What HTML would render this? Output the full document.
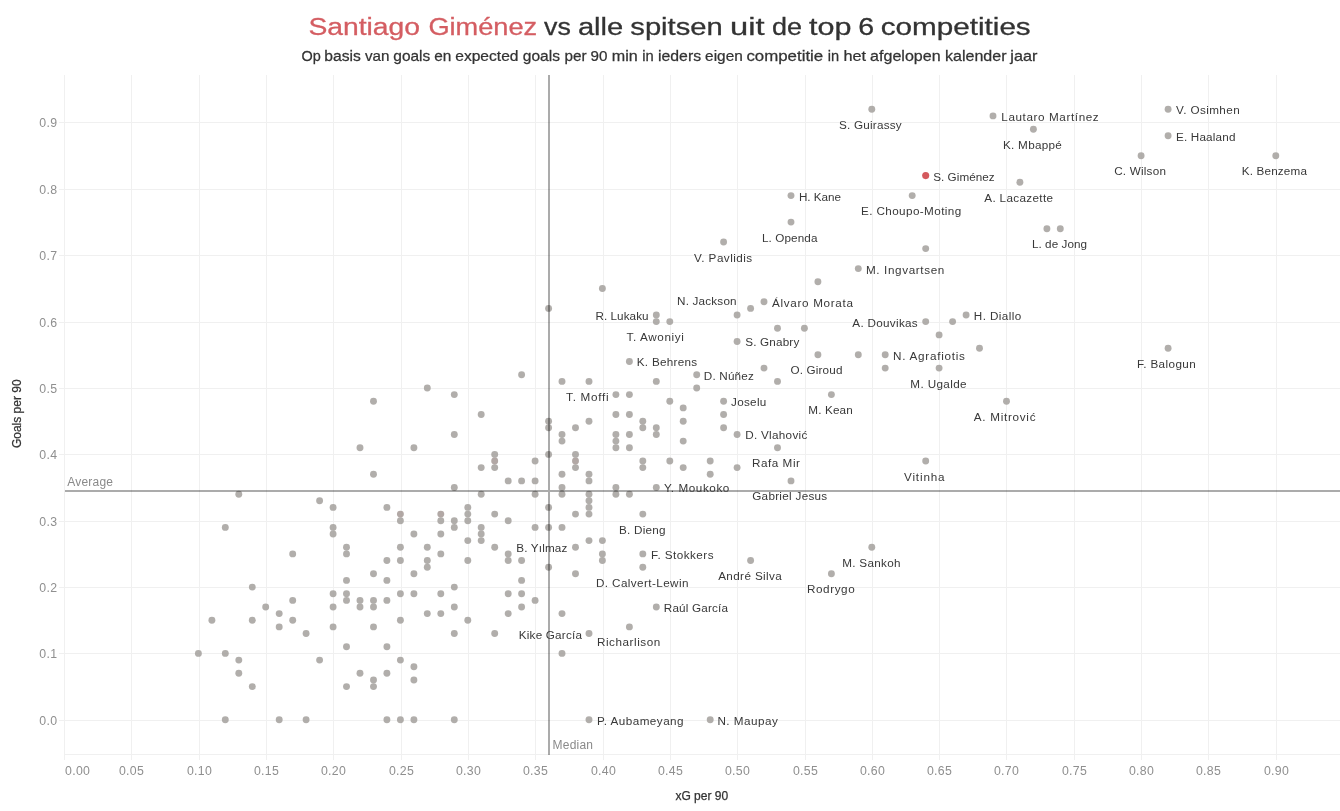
<!DOCTYPE html>
<html><head><meta charset="utf-8"><title>Santiago Giménez vs alle spitsen</title>
<style>html,body{margin:0;padding:0;background:#fff}body{width:1340px;height:811px;overflow:hidden}svg{display:block}text{font-family:"Liberation Sans",sans-serif}.lb{font-size:11.7px;fill:#383838}.ax{font-size:12.3px;fill:#8f8f8f;letter-spacing:0.3px}.rf{font-size:12px;fill:#8a8a8a;letter-spacing:0.2px}.at{font-size:12px;fill:#333;stroke:#333;stroke-width:0.25px}</style></head><body>
<svg width="1340" height="811" viewBox="0 0 1340 811">
<rect width="1340" height="811" fill="#fff"/>
<g transform="translate(308.4 34.5) scale(1.160 1)"><text x="0" y="0" font-size="24.4px" fill="#d45d62" stroke="#d45d62" stroke-width="0.3">Santiago </text></g>
<g transform="translate(428.4 34.5) scale(1.115 1)"><text x="0" y="0" font-size="24.4px" fill="#d45d62" stroke="#d45d62" stroke-width="0.3">Giménez </text></g>
<g transform="translate(544.0 34.5) scale(1.098 1)"><text x="0" y="0" font-size="24.4px" fill="#333" stroke="#333" stroke-width="0.3">vs </text></g>
<g transform="translate(577.9 34.5) scale(1.195 1)"><text x="0" y="0" font-size="24.4px" fill="#333" stroke="#333" stroke-width="0.3">alle </text></g>
<g transform="translate(630.3 34.5) scale(1.196 1)"><text x="0" y="0" font-size="24.4px" fill="#333" stroke="#333" stroke-width="0.3">spitsen </text></g>
<g transform="translate(730.0 34.5) scale(1.342 1)"><text x="0" y="0" font-size="24.4px" fill="#333" stroke="#333" stroke-width="0.3">uit </text></g>
<g transform="translate(772.1 34.5) scale(1.105 1)"><text x="0" y="0" font-size="24.4px" fill="#333" stroke="#333" stroke-width="0.3">de </text></g>
<g transform="translate(809.1 34.5) scale(1.250 1)"><text x="0" y="0" font-size="24.4px" fill="#333" stroke="#333" stroke-width="0.3">top </text></g>
<g transform="translate(858.3 34.5) scale(1.171 1)"><text x="0" y="0" font-size="24.4px" fill="#333" stroke="#333" stroke-width="0.3">6 </text></g>
<g transform="translate(880.8 34.5) scale(1.215 1)"><text x="0" y="0" font-size="24.4px" fill="#333" stroke="#333" stroke-width="0.3">competities </text></g>
<g transform="translate(301.5 61.1) scale(0.991 1)"><text x="0" y="0" font-size="14.6px" fill="#333" stroke="#333" stroke-width="0.25">Op </text></g>
<g transform="translate(324.3 61.1) scale(1.074 1)"><text x="0" y="0" font-size="14.6px" fill="#333" stroke="#333" stroke-width="0.25">basis </text></g>
<g transform="translate(364.9 61.1) scale(1.041 1)"><text x="0" y="0" font-size="14.6px" fill="#333" stroke="#333" stroke-width="0.25">van </text></g>
<g transform="translate(393.3 61.1) scale(1.060 1)"><text x="0" y="0" font-size="14.6px" fill="#333" stroke="#333" stroke-width="0.25">goals </text></g>
<g transform="translate(434.3 61.1) scale(1.054 1)"><text x="0" y="0" font-size="14.6px" fill="#333" stroke="#333" stroke-width="0.25">en </text></g>
<g transform="translate(455.2 61.1) scale(1.069 1)"><text x="0" y="0" font-size="14.6px" fill="#333" stroke="#333" stroke-width="0.25">expected </text></g>
<g transform="translate(522.8 61.1) scale(1.066 1)"><text x="0" y="0" font-size="14.6px" fill="#333" stroke="#333" stroke-width="0.25">goals </text></g>
<g transform="translate(564.4 61.1) scale(1.048 1)"><text x="0" y="0" font-size="14.6px" fill="#333" stroke="#333" stroke-width="0.25">per </text></g>
<g transform="translate(590.5 61.1) scale(1.041 1)"><text x="0" y="0" font-size="14.6px" fill="#333" stroke="#333" stroke-width="0.25">90 </text></g>
<g transform="translate(611.7 61.1) scale(1.105 1)"><text x="0" y="0" font-size="14.6px" fill="#333" stroke="#333" stroke-width="0.25">min </text></g>
<g transform="translate(642.2 61.1) scale(1.012 1)"><text x="0" y="0" font-size="14.6px" fill="#333" stroke="#333" stroke-width="0.25">in </text></g>
<g transform="translate(658.0 61.1) scale(1.084 1)"><text x="0" y="0" font-size="14.6px" fill="#333" stroke="#333" stroke-width="0.25">ieders </text></g>
<g transform="translate(705.1 61.1) scale(1.055 1)"><text x="0" y="0" font-size="14.6px" fill="#333" stroke="#333" stroke-width="0.25">eigen </text></g>
<g transform="translate(746.4 61.1) scale(1.155 1)"><text x="0" y="0" font-size="14.6px" fill="#333" stroke="#333" stroke-width="0.25">competitie </text></g>
<g transform="translate(827.7 61.1) scale(1.004 1)"><text x="0" y="0" font-size="14.6px" fill="#333" stroke="#333" stroke-width="0.25">in </text></g>
<g transform="translate(843.4 61.1) scale(1.118 1)"><text x="0" y="0" font-size="14.6px" fill="#333" stroke="#333" stroke-width="0.25">het </text></g>
<g transform="translate(870.1 61.1) scale(1.101 1)"><text x="0" y="0" font-size="14.6px" fill="#333" stroke="#333" stroke-width="0.25">afgelopen </text></g>
<g transform="translate(945.0 61.1) scale(1.099 1)"><text x="0" y="0" font-size="14.6px" fill="#333" stroke="#333" stroke-width="0.25">kalender </text></g>
<g transform="translate(1010.3 61.1) scale(1.109 1)"><text x="0" y="0" font-size="14.6px" fill="#333" stroke="#333" stroke-width="0.25">jaar </text></g>
<path d="M64.5 75V759.5M131.5 75V759.5M199.5 75V759.5M266.5 75V759.5M333.5 75V759.5M401.5 75V759.5M468.5 75V759.5M535.5 75V759.5M603.5 75V759.5M670.5 75V759.5M737.5 75V759.5M805.5 75V759.5M872.5 75V759.5M939.5 75V759.5M1006.5 75V759.5M1074.5 75V759.5M1141.5 75V759.5M1208.5 75V759.5M1276.5 75V759.5M59.2 720.5H1340M59.2 653.5H1340M59.2 587.5H1340M59.2 521.5H1340M59.2 454.5H1340M59.2 388.5H1340M59.2 322.5H1340M59.2 255.5H1340M59.2 189.5H1340M59.2 122.5H1340M64.5 754.5H1340" stroke="#f0f0f0" stroke-width="1" fill="none" shape-rendering="crispEdges"/>
<text class="ax" x="65.1" y="775.2">0.00</text>
<text class="ax" x="131.5" y="775.2" text-anchor="middle">0.05</text>
<text class="ax" x="199.5" y="775.2" text-anchor="middle">0.10</text>
<text class="ax" x="266.5" y="775.2" text-anchor="middle">0.15</text>
<text class="ax" x="333.5" y="775.2" text-anchor="middle">0.20</text>
<text class="ax" x="401.5" y="775.2" text-anchor="middle">0.25</text>
<text class="ax" x="468.5" y="775.2" text-anchor="middle">0.30</text>
<text class="ax" x="535.5" y="775.2" text-anchor="middle">0.35</text>
<text class="ax" x="603.5" y="775.2" text-anchor="middle">0.40</text>
<text class="ax" x="670.5" y="775.2" text-anchor="middle">0.45</text>
<text class="ax" x="737.5" y="775.2" text-anchor="middle">0.50</text>
<text class="ax" x="805.5" y="775.2" text-anchor="middle">0.55</text>
<text class="ax" x="872.5" y="775.2" text-anchor="middle">0.60</text>
<text class="ax" x="939.5" y="775.2" text-anchor="middle">0.65</text>
<text class="ax" x="1006.5" y="775.2" text-anchor="middle">0.70</text>
<text class="ax" x="1074.5" y="775.2" text-anchor="middle">0.75</text>
<text class="ax" x="1141.5" y="775.2" text-anchor="middle">0.80</text>
<text class="ax" x="1208.5" y="775.2" text-anchor="middle">0.85</text>
<text class="ax" x="1276.5" y="775.2" text-anchor="middle">0.90</text>
<text class="ax" x="57.3" y="725.3" text-anchor="end">0.0</text>
<text class="ax" x="57.3" y="658.3" text-anchor="end">0.1</text>
<text class="ax" x="57.3" y="592.3" text-anchor="end">0.2</text>
<text class="ax" x="57.3" y="526.3" text-anchor="end">0.3</text>
<text class="ax" x="57.3" y="459.3" text-anchor="end">0.4</text>
<text class="ax" x="57.3" y="393.3" text-anchor="end">0.5</text>
<text class="ax" x="57.3" y="327.3" text-anchor="end">0.6</text>
<text class="ax" x="57.3" y="260.3" text-anchor="end">0.7</text>
<text class="ax" x="57.3" y="194.3" text-anchor="end">0.8</text>
<text class="ax" x="57.3" y="127.3" text-anchor="end">0.9</text>
<text class="at" x="701.8" y="800.2" text-anchor="middle">xG per 90</text>
<text class="at" transform="translate(20.7 413.7) rotate(-90)" text-anchor="middle">Goals per 90</text>
<g fill="#a4a19d" fill-opacity="0.86"><circle cx="252.3" cy="587.1" r="3.45"/><circle cx="454.3" cy="587.1" r="3.45"/><circle cx="333.1" cy="593.7" r="3.45"/><circle cx="346.5" cy="593.7" r="3.45"/><circle cx="400.4" cy="593.7" r="3.45"/><circle cx="413.9" cy="593.7" r="3.45"/><circle cx="440.8" cy="593.7" r="3.45"/><circle cx="292.7" cy="600.4" r="3.45"/><circle cx="346.5" cy="600.4" r="3.45"/><circle cx="360.0" cy="600.4" r="3.45"/><circle cx="373.5" cy="600.4" r="3.45"/><circle cx="386.9" cy="600.4" r="3.45"/><circle cx="265.7" cy="607.0" r="3.45"/><circle cx="333.1" cy="607.0" r="3.45"/><circle cx="360.0" cy="607.0" r="3.45"/><circle cx="373.5" cy="607.0" r="3.45"/><circle cx="454.3" cy="607.0" r="3.45"/><circle cx="279.2" cy="613.6" r="3.45"/><circle cx="427.3" cy="613.6" r="3.45"/><circle cx="440.8" cy="613.6" r="3.45"/><circle cx="211.9" cy="620.3" r="3.45"/><circle cx="252.3" cy="620.3" r="3.45"/><circle cx="292.7" cy="620.3" r="3.45"/><circle cx="400.4" cy="620.3" r="3.45"/><circle cx="279.2" cy="626.9" r="3.45"/><circle cx="333.1" cy="626.9" r="3.45"/><circle cx="373.5" cy="626.9" r="3.45"/><circle cx="306.1" cy="633.5" r="3.45"/><circle cx="454.3" cy="633.5" r="3.45"/><circle cx="346.5" cy="646.8" r="3.45"/><circle cx="386.9" cy="646.8" r="3.45"/><circle cx="198.4" cy="653.4" r="3.45"/><circle cx="225.3" cy="653.4" r="3.45"/><circle cx="238.8" cy="660.1" r="3.45"/><circle cx="319.6" cy="660.1" r="3.45"/><circle cx="400.4" cy="660.1" r="3.45"/><circle cx="413.9" cy="666.7" r="3.45"/><circle cx="238.8" cy="673.3" r="3.45"/><circle cx="360.0" cy="673.3" r="3.45"/><circle cx="386.9" cy="673.3" r="3.45"/><circle cx="373.5" cy="680.0" r="3.45"/><circle cx="413.9" cy="680.0" r="3.45"/><circle cx="252.3" cy="686.6" r="3.45"/><circle cx="346.5" cy="686.6" r="3.45"/><circle cx="373.5" cy="686.6" r="3.45"/><circle cx="225.3" cy="719.8" r="3.45"/><circle cx="279.2" cy="719.8" r="3.45"/><circle cx="306.1" cy="719.8" r="3.45"/><circle cx="386.9" cy="719.8" r="3.45"/><circle cx="400.4" cy="719.8" r="3.45"/><circle cx="413.9" cy="719.8" r="3.45"/><circle cx="454.3" cy="719.8" r="3.45"/><circle cx="454.3" cy="434.5" r="3.45"/><circle cx="360.0" cy="447.7" r="3.45"/><circle cx="413.9" cy="447.7" r="3.45"/><circle cx="373.5" cy="474.3" r="3.45"/><circle cx="454.3" cy="487.5" r="3.45"/><circle cx="238.8" cy="494.2" r="3.45"/><circle cx="319.6" cy="500.8" r="3.45"/><circle cx="333.1" cy="507.4" r="3.45"/><circle cx="386.9" cy="507.4" r="3.45"/><circle cx="400.4" cy="514.1" r="3.45"/><circle cx="440.8" cy="514.1" r="3.45"/><circle cx="400.4" cy="520.7" r="3.45"/><circle cx="440.8" cy="520.7" r="3.45"/><circle cx="454.3" cy="520.7" r="3.45"/><circle cx="225.3" cy="527.4" r="3.45"/><circle cx="333.1" cy="527.4" r="3.45"/><circle cx="454.3" cy="527.4" r="3.45"/><circle cx="333.1" cy="534.0" r="3.45"/><circle cx="413.9" cy="534.0" r="3.45"/><circle cx="440.8" cy="534.0" r="3.45"/><circle cx="346.5" cy="547.3" r="3.45"/><circle cx="400.4" cy="547.3" r="3.45"/><circle cx="427.3" cy="547.3" r="3.45"/><circle cx="292.7" cy="553.9" r="3.45"/><circle cx="346.5" cy="553.9" r="3.45"/><circle cx="440.8" cy="553.9" r="3.45"/><circle cx="386.9" cy="560.5" r="3.45"/><circle cx="400.4" cy="560.5" r="3.45"/><circle cx="427.3" cy="560.5" r="3.45"/><circle cx="427.3" cy="567.2" r="3.45"/><circle cx="373.5" cy="573.8" r="3.45"/><circle cx="413.9" cy="573.8" r="3.45"/><circle cx="346.5" cy="580.4" r="3.45"/><circle cx="386.9" cy="580.4" r="3.45"/><circle cx="427.3" cy="388.0" r="3.45"/><circle cx="454.3" cy="394.6" r="3.45"/><circle cx="373.5" cy="401.3" r="3.45"/><circle cx="521.6" cy="580.4" r="3.45"/><circle cx="508.2" cy="593.7" r="3.45"/><circle cx="521.6" cy="593.7" r="3.45"/><circle cx="535.1" cy="600.4" r="3.45"/><circle cx="521.6" cy="607.0" r="3.45"/><circle cx="508.2" cy="613.6" r="3.45"/><circle cx="562.0" cy="613.6" r="3.45"/><circle cx="467.8" cy="620.3" r="3.45"/><circle cx="656.3" cy="607.0" r="3.45"/><circle cx="629.4" cy="626.9" r="3.45"/><circle cx="494.7" cy="633.5" r="3.45"/><circle cx="589.0" cy="633.5" r="3.45"/><circle cx="562.0" cy="653.4" r="3.45"/><circle cx="589.0" cy="719.8" r="3.45"/><circle cx="710.2" cy="719.8" r="3.45"/><circle cx="562.0" cy="434.5" r="3.45"/><circle cx="562.0" cy="441.1" r="3.45"/><circle cx="615.9" cy="434.5" r="3.45"/><circle cx="615.9" cy="441.1" r="3.45"/><circle cx="615.9" cy="447.7" r="3.45"/><circle cx="629.4" cy="434.5" r="3.45"/><circle cx="629.4" cy="447.7" r="3.45"/><circle cx="656.3" cy="434.5" r="3.45"/><circle cx="683.2" cy="441.1" r="3.45"/><circle cx="494.7" cy="454.4" r="3.45"/><circle cx="494.7" cy="461.0" r="3.45"/><circle cx="494.7" cy="467.6" r="3.45"/><circle cx="481.2" cy="467.6" r="3.45"/><circle cx="535.1" cy="461.0" r="3.45"/><circle cx="548.6" cy="454.4" r="3.45"/><circle cx="575.5" cy="454.4" r="3.45"/><circle cx="575.5" cy="461.0" r="3.45"/><circle cx="575.5" cy="467.6" r="3.45"/><circle cx="562.0" cy="474.3" r="3.45"/><circle cx="589.0" cy="474.3" r="3.45"/><circle cx="589.0" cy="480.9" r="3.45"/><circle cx="508.2" cy="480.9" r="3.45"/><circle cx="521.6" cy="480.9" r="3.45"/><circle cx="535.1" cy="480.9" r="3.45"/><circle cx="642.8" cy="461.0" r="3.45"/><circle cx="642.8" cy="467.6" r="3.45"/><circle cx="669.8" cy="461.0" r="3.45"/><circle cx="683.2" cy="467.6" r="3.45"/><circle cx="710.2" cy="461.0" r="3.45"/><circle cx="710.2" cy="474.3" r="3.45"/><circle cx="562.0" cy="487.5" r="3.45"/><circle cx="615.9" cy="487.5" r="3.45"/><circle cx="656.3" cy="487.5" r="3.45"/><circle cx="481.2" cy="494.2" r="3.45"/><circle cx="535.1" cy="494.2" r="3.45"/><circle cx="562.0" cy="494.2" r="3.45"/><circle cx="589.0" cy="494.2" r="3.45"/><circle cx="615.9" cy="494.2" r="3.45"/><circle cx="629.4" cy="494.2" r="3.45"/><circle cx="589.0" cy="500.8" r="3.45"/><circle cx="589.0" cy="507.4" r="3.45"/><circle cx="548.6" cy="507.4" r="3.45"/><circle cx="467.8" cy="507.4" r="3.45"/><circle cx="467.8" cy="514.1" r="3.45"/><circle cx="467.8" cy="520.7" r="3.45"/><circle cx="494.7" cy="514.1" r="3.45"/><circle cx="575.5" cy="514.1" r="3.45"/><circle cx="589.0" cy="514.1" r="3.45"/><circle cx="642.8" cy="514.1" r="3.45"/><circle cx="508.2" cy="520.7" r="3.45"/><circle cx="481.2" cy="527.4" r="3.45"/><circle cx="481.2" cy="534.0" r="3.45"/><circle cx="481.2" cy="540.6" r="3.45"/><circle cx="467.8" cy="540.6" r="3.45"/><circle cx="535.1" cy="527.4" r="3.45"/><circle cx="548.6" cy="527.4" r="3.45"/><circle cx="562.0" cy="527.4" r="3.45"/><circle cx="589.0" cy="540.6" r="3.45"/><circle cx="602.4" cy="540.6" r="3.45"/><circle cx="494.7" cy="547.3" r="3.45"/><circle cx="575.5" cy="547.3" r="3.45"/><circle cx="508.2" cy="553.9" r="3.45"/><circle cx="508.2" cy="560.5" r="3.45"/><circle cx="521.6" cy="560.5" r="3.45"/><circle cx="467.8" cy="560.5" r="3.45"/><circle cx="602.4" cy="553.9" r="3.45"/><circle cx="602.4" cy="560.5" r="3.45"/><circle cx="642.8" cy="553.9" r="3.45"/><circle cx="642.8" cy="567.2" r="3.45"/><circle cx="548.6" cy="567.2" r="3.45"/><circle cx="575.5" cy="573.8" r="3.45"/><circle cx="602.4" cy="288.5" r="3.45"/><circle cx="548.6" cy="308.4" r="3.45"/><circle cx="656.3" cy="315.0" r="3.45"/><circle cx="656.3" cy="321.6" r="3.45"/><circle cx="669.8" cy="321.6" r="3.45"/><circle cx="629.4" cy="361.5" r="3.45"/><circle cx="521.6" cy="374.7" r="3.45"/><circle cx="562.0" cy="381.4" r="3.45"/><circle cx="589.0" cy="381.4" r="3.45"/><circle cx="656.3" cy="381.4" r="3.45"/><circle cx="696.7" cy="374.7" r="3.45"/><circle cx="696.7" cy="388.0" r="3.45"/><circle cx="615.9" cy="394.6" r="3.45"/><circle cx="629.4" cy="394.6" r="3.45"/><circle cx="669.8" cy="401.3" r="3.45"/><circle cx="723.6" cy="401.3" r="3.45"/><circle cx="683.2" cy="407.9" r="3.45"/><circle cx="481.2" cy="414.5" r="3.45"/><circle cx="615.9" cy="414.5" r="3.45"/><circle cx="629.4" cy="414.5" r="3.45"/><circle cx="723.6" cy="414.5" r="3.45"/><circle cx="548.6" cy="421.2" r="3.45"/><circle cx="589.0" cy="421.2" r="3.45"/><circle cx="642.8" cy="421.2" r="3.45"/><circle cx="683.2" cy="421.2" r="3.45"/><circle cx="548.6" cy="427.8" r="3.45"/><circle cx="575.5" cy="427.8" r="3.45"/><circle cx="642.8" cy="427.8" r="3.45"/><circle cx="656.3" cy="427.8" r="3.45"/><circle cx="723.6" cy="427.8" r="3.45"/><circle cx="737.1" cy="434.5" r="3.45"/><circle cx="777.5" cy="447.7" r="3.45"/><circle cx="737.1" cy="467.6" r="3.45"/><circle cx="791.0" cy="480.9" r="3.45"/><circle cx="925.7" cy="461.0" r="3.45"/><circle cx="871.8" cy="547.3" r="3.45"/><circle cx="750.6" cy="560.5" r="3.45"/><circle cx="831.4" cy="573.8" r="3.45"/><circle cx="817.9" cy="281.8" r="3.45"/><circle cx="764.0" cy="301.7" r="3.45"/><circle cx="750.6" cy="308.4" r="3.45"/><circle cx="737.1" cy="315.0" r="3.45"/><circle cx="777.5" cy="328.3" r="3.45"/><circle cx="804.4" cy="328.3" r="3.45"/><circle cx="737.1" cy="341.5" r="3.45"/><circle cx="925.7" cy="321.6" r="3.45"/><circle cx="952.6" cy="321.6" r="3.45"/><circle cx="966.1" cy="315.0" r="3.45"/><circle cx="939.1" cy="334.9" r="3.45"/><circle cx="979.5" cy="348.2" r="3.45"/><circle cx="817.9" cy="354.8" r="3.45"/><circle cx="858.3" cy="354.8" r="3.45"/><circle cx="885.2" cy="354.8" r="3.45"/><circle cx="885.2" cy="368.1" r="3.45"/><circle cx="939.1" cy="368.1" r="3.45"/><circle cx="764.0" cy="368.1" r="3.45"/><circle cx="777.5" cy="381.4" r="3.45"/><circle cx="831.4" cy="394.6" r="3.45"/><circle cx="871.8" cy="109.3" r="3.45"/><circle cx="993.0" cy="115.9" r="3.45"/><circle cx="791.0" cy="195.6" r="3.45"/><circle cx="912.2" cy="195.6" r="3.45"/><circle cx="791.0" cy="222.1" r="3.45"/><circle cx="723.6" cy="242.0" r="3.45"/><circle cx="925.7" cy="248.6" r="3.45"/><circle cx="858.3" cy="268.6" r="3.45"/><circle cx="1033.4" cy="129.2" r="3.45"/><circle cx="1168.1" cy="109.3" r="3.45"/><circle cx="1168.1" cy="135.8" r="3.45"/><circle cx="1141.1" cy="155.7" r="3.45"/><circle cx="1275.8" cy="155.7" r="3.45"/><circle cx="1019.9" cy="182.3" r="3.45"/><circle cx="1046.9" cy="228.7" r="3.45"/><circle cx="1060.3" cy="228.7" r="3.45"/><circle cx="1168.1" cy="348.2" r="3.45"/><circle cx="1006.5" cy="401.3" r="3.45"/></g>
<g fill="#c06a6a" fill-opacity="0.08"><circle cx="494.7" cy="461.0" r="3.45"/><circle cx="575.5" cy="461.0" r="3.45"/><circle cx="400.4" cy="514.1" r="3.45"/><circle cx="440.8" cy="514.1" r="3.45"/></g>
<circle cx="925.7" cy="175.6" r="3.55" fill="#d4595d"/>
<path d="M64.7 491H1340M549 75V754.5" stroke="#000" stroke-opacity="0.33" stroke-width="2" fill="none" shape-rendering="crispEdges"/>
<text class="rf" x="67.3" y="486">Average</text>
<text class="rf" x="552.6" y="748.7">Median</text>
<text class="lb" x="839.0" y="129.0" textLength="62.6" lengthAdjust="spacing">S. Guirassy</text>
<text class="lb" x="1001.3" y="121.0" textLength="97.4" lengthAdjust="spacing">Lautaro Martínez</text>
<text class="lb" x="1003.0" y="149.0" textLength="58.8" lengthAdjust="spacing">K. Mbappé</text>
<text class="lb" x="1176.0" y="114.0" textLength="63.7" lengthAdjust="spacing">V. Osimhen</text>
<text class="lb" x="1176.0" y="141.0" textLength="59.4" lengthAdjust="spacing">E. Haaland</text>
<text class="lb" x="1114.2" y="175.0" textLength="51.7" lengthAdjust="spacing">C. Wilson</text>
<text class="lb" x="1241.8" y="175.0" textLength="65.1" lengthAdjust="spacing">K. Benzema</text>
<text class="lb" x="933.2" y="181.0" textLength="61.5" lengthAdjust="spacing">S. Giménez</text>
<text class="lb" x="984.3" y="202.0" textLength="68.7" lengthAdjust="spacing">A. Lacazette</text>
<text class="lb" x="798.9" y="201.0" textLength="42.1" lengthAdjust="spacing">H. Kane</text>
<text class="lb" x="861.0" y="215.0" textLength="100.2" lengthAdjust="spacing">E. Choupo-Moting</text>
<text class="lb" x="761.9" y="242.0" textLength="55.6" lengthAdjust="spacing">L. Openda</text>
<text class="lb" x="1031.9" y="248.0" textLength="55.2" lengthAdjust="spacing">L. de Jong</text>
<text class="lb" x="694.0" y="262.0" textLength="58.2" lengthAdjust="spacing">V. Pavlidis</text>
<text class="lb" x="866.0" y="274.0" textLength="78.3" lengthAdjust="spacing">M. Ingvartsen</text>
<text class="lb" x="677.0" y="305.0" textLength="59.6" lengthAdjust="spacing">N. Jackson</text>
<text class="lb" x="772.0" y="307.0" textLength="81.0" lengthAdjust="spacing">Álvaro Morata</text>
<text class="lb" x="595.4" y="320.0" textLength="53.2" lengthAdjust="spacing">R. Lukaku</text>
<text class="lb" x="973.8" y="320.0" textLength="47.5" lengthAdjust="spacing">H. Diallo</text>
<text class="lb" x="852.3" y="327.0" textLength="65.4" lengthAdjust="spacing">A. Douvikas</text>
<text class="lb" x="626.5" y="341.0" textLength="57.4" lengthAdjust="spacing">T. Awoniyi</text>
<text class="lb" x="745.2" y="346.0" textLength="54.1" lengthAdjust="spacing">S. Gnabry</text>
<text class="lb" x="893.1" y="360.0" textLength="71.8" lengthAdjust="spacing">N. Agrafiotis</text>
<text class="lb" x="636.8" y="366.0" textLength="60.4" lengthAdjust="spacing">K. Behrens</text>
<text class="lb" x="1136.9" y="368.0" textLength="58.8" lengthAdjust="spacing">F. Balogun</text>
<text class="lb" x="790.4" y="374.0" textLength="52.1" lengthAdjust="spacing">O. Giroud</text>
<text class="lb" x="703.8" y="380.0" textLength="50.0" lengthAdjust="spacing">D. Núñez</text>
<text class="lb" x="910.3" y="388.0" textLength="56.3" lengthAdjust="spacing">M. Ugalde</text>
<text class="lb" x="566.1" y="401.0" textLength="42.4" lengthAdjust="spacing">T. Moffi</text>
<text class="lb" x="731.1" y="406.0" textLength="35.2" lengthAdjust="spacing">Joselu</text>
<text class="lb" x="808.3" y="414.0" textLength="44.5" lengthAdjust="spacing">M. Kean</text>
<text class="lb" x="973.8" y="421.0" textLength="61.7" lengthAdjust="spacing">A. Mitrović</text>
<text class="lb" x="745.2" y="439.0" textLength="62.1" lengthAdjust="spacing">D. Vlahović</text>
<text class="lb" x="752.1" y="467.0" textLength="47.8" lengthAdjust="spacing">Rafa Mir</text>
<text class="lb" x="904.0" y="481.0" textLength="40.6" lengthAdjust="spacing">Vitinha</text>
<text class="lb" x="664.0" y="492.0" textLength="65.3" lengthAdjust="spacing">Y. Moukoko</text>
<text class="lb" x="752.2" y="500.0" textLength="75.0" lengthAdjust="spacing">Gabriel Jesus</text>
<text class="lb" x="619.0" y="534.0" textLength="46.6" lengthAdjust="spacing">B. Dieng</text>
<text class="lb" x="516.3" y="552.0" textLength="51.0" lengthAdjust="spacing">B. Yılmaz</text>
<text class="lb" x="651.1" y="559.0" textLength="62.4" lengthAdjust="spacing">F. Stokkers</text>
<text class="lb" x="842.2" y="567.0" textLength="58.4" lengthAdjust="spacing">M. Sankoh</text>
<text class="lb" x="718.2" y="580.0" textLength="63.5" lengthAdjust="spacing">André Silva</text>
<text class="lb" x="595.9" y="587.0" textLength="92.6" lengthAdjust="spacing">D. Calvert-Lewin</text>
<text class="lb" x="807.0" y="593.0" textLength="47.7" lengthAdjust="spacing">Rodrygo</text>
<text class="lb" x="663.8" y="612.0" textLength="64.2" lengthAdjust="spacing">Raúl García</text>
<text class="lb" x="518.8" y="639.0" textLength="63.1" lengthAdjust="spacing">Kike García</text>
<text class="lb" x="596.9" y="646.0" textLength="63.4" lengthAdjust="spacing">Richarlison</text>
<text class="lb" x="596.9" y="725.0" textLength="86.7" lengthAdjust="spacing">P. Aubameyang</text>
<text class="lb" x="717.4" y="725.0" textLength="60.5" lengthAdjust="spacing">N. Maupay</text>
</svg></body></html>
